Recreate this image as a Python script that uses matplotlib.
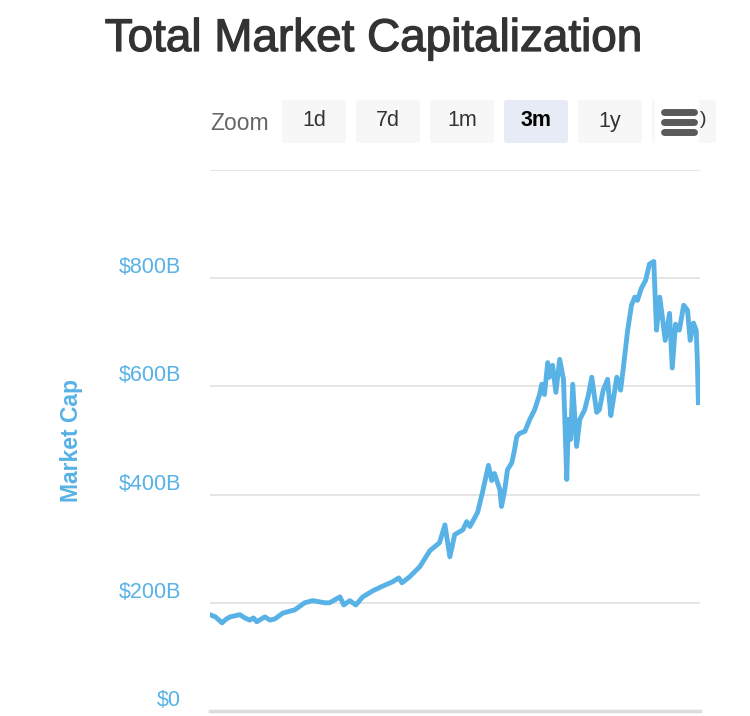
import matplotlib
matplotlib.use('Agg')
import matplotlib.pyplot as plt
import matplotlib.transforms as mtransforms
import matplotlib.patheffects as pe
from matplotlib.patches import FancyBboxPatch

plt.rcParams['font.family'] = ['Liberation Sans', 'DejaVu Sans']

# days into the 3 month window, total market cap in $B
days = [0, 1.0, 2.2, 3.0, 3.7, 5.5, 6.4, 7.3, 8.0, 8.6, 10.1, 11.0, 11.9, 13.4, 15.6, 17.4, 18.9, 21.1, 22.0,
        23.9, 24.6, 25.7, 26.8, 28.1, 29.9, 31.8, 33.6, 34.7, 35.3, 36.7, 38.6,
        40.4, 42.2, 43.2, 44.1, 45.0, 46.5, 47.2, 47.8, 49.2, 50.1, 51.2, 51.8,
        52.3, 53.3, 53.6, 54.2, 54.7, 55.5, 56.0, 56.4, 56.9, 57.9, 58.8, 59.7,
        60.6, 61.0, 61.5, 62.1, 62.4, 63.0, 63.6, 64.3, 65.0, 65.6, 65.9, 66.3,
        66.7, 67.4, 68.0, 68.9, 69.6, 70.2, 71.1, 71.6, 72.3, 73.1, 73.7, 74.2,
        74.8, 75.5, 76.0, 76.8, 77.5, 78.1, 78.6, 79.3, 80.1, 80.8, 81.6, 82.1,
        82.7, 83.2, 83.7, 84.5, 85.0, 85.6, 86.3, 87.1, 87.8, 88.3, 88.9, 89.4,
        89.6, 89.8]
mcap = [178, 174, 163, 170, 174, 178, 172, 168, 172, 165, 174, 168, 170, 181, 187, 200, 204, 200, 200,
        211, 196, 204, 196, 211, 222, 231, 239, 246, 237, 248, 267,
        296, 311, 344, 285, 326, 335, 350, 341, 367, 404, 454, 426,
        439, 409, 378, 409, 446, 459, 483, 507, 513, 517, 539, 557,
        585, 604, 585, 644, 617, 639, 589, 650, 613, 428, 539, 502,
        604, 489, 539, 557, 585, 617, 552, 557, 593, 613, 546, 578,
        617, 593, 634, 704, 750, 765, 759, 781, 796, 826, 831, 704,
        765, 726, 685, 735, 634, 715, 704, 750, 741, 685, 717, 704,
        652, 570]
yticks = [0, 200, 400, 600, 800]
ylabels = ['$0', '$200B', '$400B', '$600B', '$800B']
buttons = ['1d', '7d', '1m', '3m', '1y']
selected = '3m'

blue = '#58b2e6'
W, H = 750, 716
fig = plt.figure(figsize=(7.5, 7.16), dpi=100)
ax = fig.add_axes([210 / W, 1 - 711 / H, 490 / W, (711 - 170) / H])

ax.plot(days, mcap, color=blue, lw=3.5, solid_joinstyle='round', zorder=3)
ax.set_xlim(0, 90.1)
ax.set_ylim(0, 1000)
ax.set_yticks(yticks + [1000])
ax.set_yticklabels(ylabels + [''])
ax.grid(axis='y', color='#e3e3e3', lw=1.3)
ax.set_xticks([])
for s in ['top', 'right', 'left']:
    ax.spines[s].set_visible(False)
ax.spines['bottom'].set_color('#dcdcdc')
ax.spines['bottom'].set_linewidth(2.5)
ax.tick_params(axis='y', length=0, pad=21, labelsize=15.5, labelcolor=blue)
off = mtransforms.ScaledTranslation(0, 13 / 100, fig.dpi_scale_trans)
for lab in ax.get_yticklabels():
    lab.set_transform(lab.get_transform() + off)
ax.set_ylabel('Market Cap', color=blue, fontsize=16.5, fontweight='bold')
ax.yaxis.set_label_coords(-0.259, 0.50)

fig.text(374 / W, 1 - 39 / H, 'Total Market Capitalization', ha='center', va='center',
         fontsize=33, color='#333333',
         path_effects=[pe.withStroke(linewidth=0.9, foreground='#333333')])

# range selector
fig.text(240 / W, 1 - 123 / H, 'Zoom', ha='center', va='center', fontsize=16.5, color='#666666')
for i, b in enumerate(buttons):
    x0 = 282 + i * 74
    sel = b == selected
    fig.patches.append(FancyBboxPatch((x0 / W, 1 - 143 / H), 64 / W, 43 / H,
                                      boxstyle='round,pad=0,rounding_size=0.004',
                                      transform=fig.transFigure,
                                      fc='#e6ebf5' if sel else '#f7f7f7', ec='none'))
    fig.text((x0 + 32) / W, 1 - 121 / H, b, ha='center', va='center', fontsize=15.5,
             color='#000000' if sel else '#333333', fontweight='bold' if sel else 'normal')
fig.patches.append(FancyBboxPatch((652 / W, 1 - 143 / H), 64 / W, 43 / H,
                                  boxstyle='round,pad=0,rounding_size=0.004',
                                  transform=fig.transFigure, fc='#f7f7f7', ec='none'))
fig.text(703 / W, 1 - 120 / H, ')', ha='center', va='center', fontsize=14, color='#333333')
fig.patches.append(plt.Rectangle((655 / W, 1 - 145 / H), 44 / W, 46 / H,
                                 transform=fig.transFigure, fc='white', ec='none'))
for yy in [112, 122, 132]:
    fig.lines.append(plt.Line2D([664 / W, 694 / W], [1 - yy / H] * 2, transform=fig.transFigure,
                                color='#5a5a5a', lw=5, solid_capstyle='round'))

fig.savefig('out.png', dpi=100)
